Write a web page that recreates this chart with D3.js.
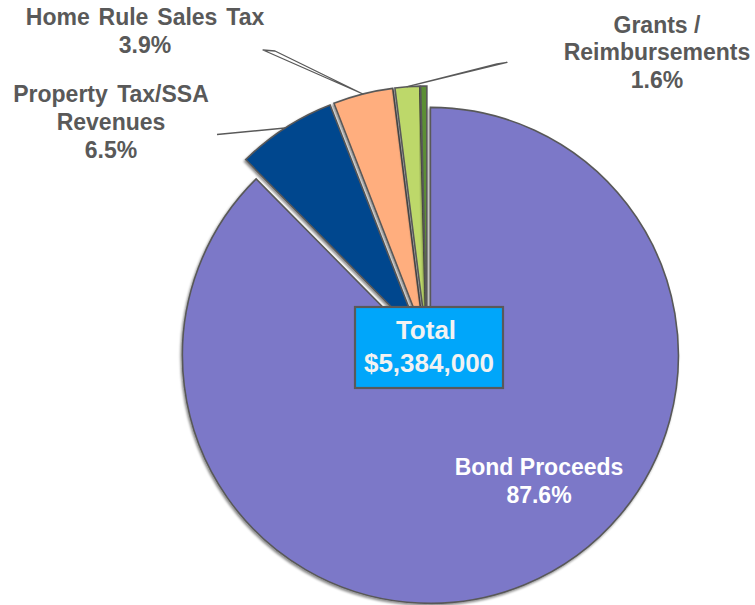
<!DOCTYPE html>
<html>
<head>
<meta charset="utf-8">
<script src="https://cdn.jsdelivr.net/npm/d3@7"></script>
<style>
  html, body { margin: 0; padding: 0; background: #ffffff; }
  svg { display: block; }
  text { font-family: "Liberation Sans", Arial, Helvetica, sans-serif; font-weight: bold; }
</style>
</head>
<body>
<svg id="chart" width="755" height="605"></svg>
<script>
// Revenue sources, share of total (%)
const categories = ["Bond Proceeds", "Property Tax/SSA Revenues", "Home Rule Sales Tax", "Grants / Reimbursements", "Other"];
const shares = [87.6, 6.5, 3.9, 1.6, 0.4];
const labelLines = [["Bond Proceeds"], ["Property Tax/SSA", "Revenues"], ["Home Rule Sales Tax"], ["Grants /", "Reimbursements"], []];
const colors = ["#7C78C8", "#03468E", "#FFAE7E", "#BDD86B", "#5B8E36"];
const totalCaption = "Total";
const totalAmount = 5384000;

const svg = d3.select("#chart");
const width = 755, height = 605;

// pie geometry
const cx = 427, cy = 347, radius = 248;
const explode = [9, 13, 13, 13, 13];
const outline = "#595959";

const defs = svg.append("defs");
const shadow = defs.append("filter").attr("id", "shadow")
  .attr("x", "-10%").attr("y", "-10%").attr("width", "120%").attr("height", "120%");
shadow.append("feDropShadow")
  .attr("dx", -1.2).attr("dy", 1.8).attr("stdDeviation", 0.9)
  .attr("flood-color", "#000").attr("flood-opacity", 0.45);

const data = categories.map((c, i) => ({ name: c, value: shares[i], lines: labelLines[i], color: colors[i], i }));

const pie = d3.pie().value(d => d.value).sort(null).startAngle(0).endAngle(2 * Math.PI);
const arcs = pie(data);
const arc = d3.arc().innerRadius(0).outerRadius(radius);

// centre of each exploded slice
function sliceCentre(a) {
  const mid = (a.startAngle + a.endAngle) / 2;
  const e = explode[a.data.i];
  return [cx + e * Math.sin(mid), cy - e * Math.cos(mid)];
}
// point on the outer rim at the slice bisector
function rimMid(a) {
  const [x, y] = sliceCentre(a);
  const mid = (a.startAngle + a.endAngle) / 2;
  return [x + radius * Math.sin(mid), y - radius * Math.cos(mid)];
}

const slices = svg.append("g");
slices.selectAll("path.slice")
  .data(arcs)
  .join("path")
  .attr("class", "slice")
  .attr("transform", d => `translate(${sliceCentre(d)})`)
  .attr("d", arc)
  .attr("fill", d => d.data.color)
  .attr("stroke", outline)
  .attr("stroke-width", 1.6)
  .attr("stroke-linejoin", "miter")
  .attr("filter", "url(#shadow)");

// leader lines for the small slices
const leaders = svg.append("g").attr("fill", "#ffffff").attr("stroke", outline).attr("stroke-width", 1.3).attr("stroke-linejoin", "round");
const [pX, pY] = rimMid(arcs[1]);
leaders.append("path").attr("d", `M${pX},${pY}L217,134.5`).attr("fill", "none").attr("stroke-width", 1.6);
const [hX, hY] = rimMid(arcs[2]);
leaders.append("path").attr("d", `M${hX},${hY}L263,50L275,51Z`);
const [gX, gY] = rimMid(arcs[3]);
leaders.append("path").attr("d", `M${gX},${gY}L497,63.8L507,62.4Z`);

// category labels
const fmtPct = v => d3.format(".1f")(v) + "%";
const labelPos = [
  { x: 539, y: 475, fill: "#ffffff", ws: 0 },
  { x: 111, y: 102, fill: "#595959", ws: 3 },
  { x: 145, y: 25, fill: "#595959", ws: 2.5 },
  { x: 657, y: 33, fill: "#595959", ws: 0 }
];
const lineH = 28;
const labels = svg.append("g").attr("font-size", 23).attr("text-anchor", "middle");
labelPos.forEach((p, i) => {
  const d = data[i];
  const t = labels.append("text").attr("fill", p.fill).attr("word-spacing", p.ws);
  const rows = d.lines.concat([fmtPct(d.value)]);
  rows.forEach((r, k) => {
    t.append("tspan").attr("x", p.x).attr("y", p.y + k * lineH - (i === 3 ? k * 0.7 : 0)).text(r);
  });
});

// total box
const box = svg.append("g");
box.append("rect")
  .attr("x", 355).attr("y", 307).attr("width", 148).attr("height", 81)
  .attr("fill", "#00A6FA").attr("stroke", outline).attr("stroke-width", 2.2);
const tt = box.append("text").attr("font-size", 26).attr("fill", "#F2F2F2").attr("text-anchor", "middle");
tt.append("tspan").attr("x", 426).attr("y", 339).text(totalCaption);
tt.append("tspan").attr("x", 429).attr("y", 372).text("$" + d3.format(",")(totalAmount));
</script>
</body>
</html>
